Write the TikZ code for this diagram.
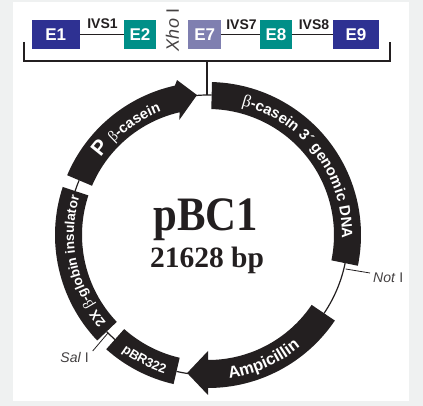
\documentclass[tikz,border=0pt]{standalone}
\usepackage{fontspec}
\setmainfont{Liberation Sans}
\newfontfamily\serf{Liberation Serif}
\usetikzlibrary{decorations.text}
\definecolor{pagebg}{HTML}{EFF1F1}
\definecolor{navy}{HTML}{2E3192}
\definecolor{tealx}{HTML}{008F88}
\definecolor{lav}{HTML}{7F7FB0}
\definecolor{ink}{HTML}{231F20}
\newcommand{\seg}[2]{\fill[ink] (#1:153pt) arc[start angle=#1,end angle=#2,radius=153pt] -- (#2:126pt) arc[start angle=#2,end angle=#1,radius=126pt] -- cycle;}
\newcommand{\thinarc}[2]{\draw[thinring] (#1:140pt) arc[start angle=#1,end angle=#2,radius=140pt];}
\newcommand{\arctext}[4]{\path[decorate,decoration={text along path,text align=center,text={#4}}] (#1:#3pt) arc[start angle=#1,end angle=#2,radius=#3pt];}
\newcommand{\wb}[1]{\color{white}\fontsize{#1}{#1}\selectfont\bfseries}
\newcommand{\wg}[1]{\color{white}\fontsize{#1}{#1}\selectfont\serf}
\tikzset{
  x=1pt,y=1pt,
  exon/.style={draw=none,text=white,font=\fontsize{17}{17}\selectfont\bfseries,minimum height=29pt,inner sep=0pt,anchor=center},
  ivslabel/.style={text=ink,font=\fontsize{14}{14}\selectfont\bfseries,inner sep=0pt},
  site/.style={text=ink!85,font=\fontsize{14}{14}\selectfont,inner sep=0pt},
  joint/.style={draw=ink,line width=1.2pt},
  brace/.style={draw=ink,line width=2pt,line join=miter},
  thinring/.style={draw=ink,line width=1.2pt},
  tick/.style={draw=ink,line width=0.8pt}
}
\begin{document}
\begin{tikzpicture}
\useasboundingbox (0,0) rectangle (423,406);
\fill[pagebg] (0,0) rectangle (423,406);
\fill[white] (13,4.5) rectangle (409,404);
% exons
\node[exon,fill=navy,minimum width=47.5pt] (e1) at (55.8,371.5) {E1};
\node[exon,fill=tealx,minimum width=32pt] (e2) at (140,371.5) {E2};
\node[exon,fill=lav,minimum width=33pt] (e7) at (204.7,371.5) {E7};
\node[exon,fill=tealx,minimum width=32pt] (e8) at (276,371.5) {E8};
\node[exon,fill=navy,minimum width=46pt] (e9) at (356,371.5) {E9};
\draw[joint] (e1) -- (e2);
\draw[joint] (e7) -- (e8);
\draw[joint] (e8) -- (e9);
\node[ivslabel] (i1) at (102.5,382) {IVS1};
\node[ivslabel] (i7) at (241.5,381) {IVS7};
\node[ivslabel] (i8) at (314,381) {IVS8};
\node[site,rotate=90,font=\fontsize{18}{18}\selectfont] (xho) at (172.5,376) {\textit{Xho} I};
% bracket
\coordinate (bl) at (24,364);
\coordinate (br) at (389.5,364);
\coordinate (bm) at (206.5,345);
\coordinate (bt) at (206.5,311);
\draw[brace] (bl) |- (bm) -| (br);
\draw[brace] (bm) -- (bt);
\begin{scope}[shift={(208,171)}]
% thin ring
\thinarc{88.5}{95}
\thinarc{-11.6}{-34}
\thinarc{-98}{-103}
\thinarc{-131.7}{-136.4}
\thinarc{157}{161.7}
% segments
\seg{88.5}{-11.6}
\seg{-103}{-131.7}
\seg{-136.4}{-198.3}
\fill[ink] (157:153pt) arc[start angle=157,end angle=102.5,radius=153pt] -- (101.3:158pt) -- (94.5:140.4pt) -- (104:118.6pt) -- (103:126pt) arc[start angle=103,end angle=157,radius=126pt] -- cycle;
\fill[ink] (-34:153pt) arc[start angle=-34,end angle=-90,radius=153pt] -- (-90:160pt) -- (-98.6:139.6pt) -- (-90:116pt) -- (-90:125pt) arc[start angle=-90,end angle=-34,radius=125pt] -- cycle;
% ticks
\coordinate (n1) at (137.7,-34);
\coordinate (n2) at (162,-38);
\coordinate (s1) at (-100,-98);
\coordinate (s2) at (-115.3,-116);
\draw[tick] (n1) -- (n2);
\draw[tick] (s1) -- (s2);
% curved labels
\arctext{98}{-24}{134}{|\wg{17}|β|\wb{15}|-casein 3´ genomic DNA}
\arctext{170}{85}{132}{|\wb{21}|P |\wg{15}|β|\wb{14.5}|-casein}
\arctext{-108}{-228}{134}{|\wb{13.5}|2X |\wg{14.5}|β|\wb{13.5}|-globin insulator}
\arctext{-137}{-97}{145}{|\wb{13}|pBR322}
\arctext{-106}{-26}{145}{|\wb{16.5}|Ampicillin}
\end{scope}
\node[font=\fontsize{48}{48}\selectfont\serf\bfseries,text=ink,inner sep=0pt,anchor=base,xscale=0.89] (title) at (205.5,175) {pBC1};
\node[font=\fontsize{29.5}{30}\selectfont\serf\bfseries,text=ink,inner sep=0pt,anchor=base] (size) at (207,138) {21628 bp};
\node[site,anchor=west] (noti) at (373,128) {\textit{Not} I};
\node[site,anchor=east] (sali) at (89,49) {\textit{Sal} I};
\end{tikzpicture}
\end{document}
